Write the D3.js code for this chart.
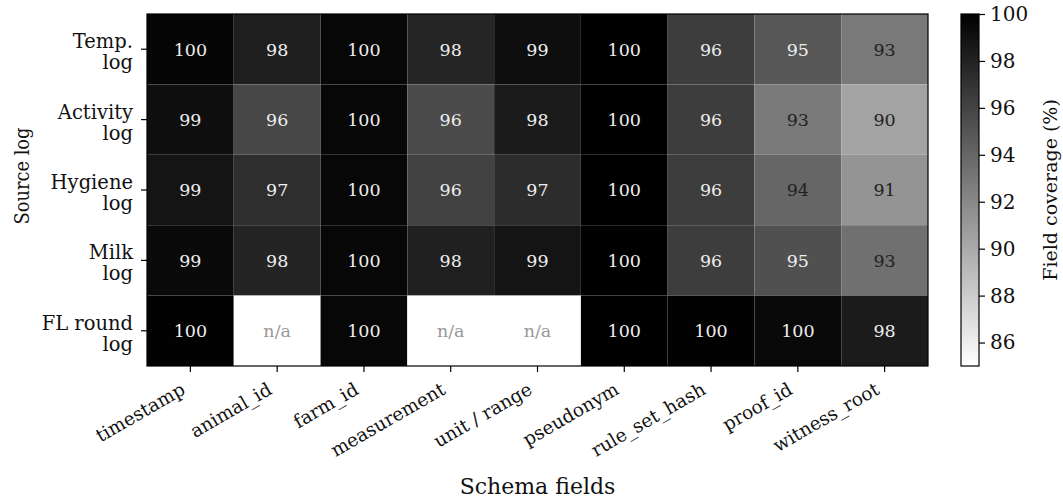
<!DOCTYPE html>
<html>
<head>
<meta charset="utf-8">
<script src="https://cdn.jsdelivr.net/npm/d3@7"></script>
<style>
  body { margin: 0; background: #fff; }
  svg text { font-family: 'DejaVu Serif', serif; }
</style>
</head>
<body>
<svg id="chart" width="1063" height="502"></svg>
<script>
const fields = ['timestamp', 'animal_id', 'farm_id', 'measurement', 'unit / range',
  'pseudonym', 'rule_set_hash', 'proof_id', 'witness_root'];
const logs = [['Temp.', 'log'], ['Activity', 'log'], ['Hygiene', 'log'], ['Milk', 'log'], ['FL round', 'log']];

// coverage in %, null = field not applicable
const tempLog     = [99.7, 98.2, 99.6, 97.8, 99.2, 100, 96.4, 94.8, 92.9];
const activityLog = [99.1, 95.8, 99.6, 95.6, 98.4, 100, 96.4, 92.8, 90.4];
const hygieneLog  = [98.8, 97.3, 99.6, 96.1, 97.4, 100, 96.4, 94.0, 91.3];
const milkLog     = [99.4, 97.9, 99.6, 98.1, 98.8, 100, 96.4, 95.3, 93.4];
const flRoundLog  = [99.9, null, 99.6, null, null, 100, 99.9, 99.5, 98.4];

const coverage = [tempLog, activityLog, hygieneLog, milkLog, flRoundLog];
const cbTicks = [86, 88, 90, 92, 94, 96, 98, 100];

const svg = d3.select('#chart');
const x0 = 147, x1 = 928, y0 = 14, y1 = 366;

const x = d3.scaleBand().domain(fields).range([x0, x1]);
const y = d3.scaleBand().domain(d3.range(logs.length)).range([y0, y1]);
const color = d3.scaleLinear().domain([85, 100]).range(['#ffffff', '#000000']).clamp(true);

const cells = [];
coverage.forEach((row, i) => row.forEach((v, j) => cells.push({ row: i, field: fields[j], v })));

svg.append('g').selectAll('rect')
  .data(cells)
  .join('rect')
  .attr('x', d => x(d.field))
  .attr('y', d => y(d.row))
  .attr('width', x.bandwidth())
  .attr('height', y.bandwidth())
  .attr('fill', d => d.v == null ? '#ffffff' : color(d.v))
  .attr('stroke', 'rgba(255,255,255,0.05)')
  .attr('stroke-width', 0.6);

svg.append('g').selectAll('text')
  .data(cells)
  .join('text')
  .attr('x', d => x(d.field) + x.bandwidth() / 2)
  .attr('y', d => y(d.row) + y.bandwidth() / 2)
  .attr('dy', '0.36em')
  .attr('text-anchor', 'middle')
  .attr('font-size', 17.5)
  .attr('fill', d => d.v == null ? '#999999' : (d.v < 94.5 ? '#222222' : '#eeeeee'))
  .text(d => d.v == null ? 'n/a' : d3.format('.0f')(d.v));

// frame
svg.append('rect')
  .attr('x', x0).attr('y', y0)
  .attr('width', x1 - x0).attr('height', y1 - y0)
  .attr('fill', 'none').attr('stroke', '#000').attr('stroke-width', 1.2);

// x axis
const xAxis = svg.append('g')
  .attr('transform', `translate(0,${y1})`)
  .call(d3.axisBottom(x).tickSize(6).tickSizeOuter(0));
xAxis.select('.domain').remove();
xAxis.selectAll('line').attr('stroke', '#000').attr('stroke-width', 1.2);
xAxis.selectAll('text')
  .attr('font-size', 18.5)
  .attr('fill', '#111')
  .attr('text-anchor', 'end')
  .attr('x', 0).attr('y', 0).attr('dy', 0)
  .attr('transform', 'translate(-4,27) rotate(-30)');

// y axis
const yAxis = svg.append('g')
  .attr('transform', `translate(${x0},0)`)
  .call(d3.axisLeft(y).tickSize(6).tickSizeOuter(0).tickFormat(''));
yAxis.select('.domain').remove();
yAxis.selectAll('line').attr('stroke', '#000').attr('stroke-width', 1.2);
yAxis.selectAll('.tick').each(function(i) {
  const t = d3.select(this).append('text')
    .attr('x', -14)
    .attr('text-anchor', 'end')
    .attr('font-size', 19.5)
    .attr('fill', '#111');
  logs[i].forEach((line, k) => {
    t.append('tspan').attr('x', -14).attr('y', k === 0 ? -1 : 20).text(line);
  });
});

svg.append('text')
  .attr('transform', `translate(29,176) rotate(-90) scale(0.87,1)`)
  .attr('text-anchor', 'middle')
  .attr('font-size', 20.5)
  .attr('fill', '#111')
  .text('Source log');

svg.append('text')
  .attr('x', (x0 + x1) / 2)
  .attr('y', 494)
  .attr('text-anchor', 'middle')
  .attr('font-size', 22)
  .attr('fill', '#111')
  .text('Schema fields');

// colorbar
const cbX = 961, cbW = 18;
const cbScale = d3.scaleLinear().domain([85, 100]).range([y1, y0]);
const defs = svg.append('defs');
const grad = defs.append('linearGradient')
  .attr('id', 'cbgrad').attr('x1', 0).attr('y1', 1).attr('x2', 0).attr('y2', 0);
grad.append('stop').attr('offset', 0).attr('stop-color', color(85));
grad.append('stop').attr('offset', 1).attr('stop-color', color(100));

svg.append('rect')
  .attr('x', cbX).attr('y', y0)
  .attr('width', cbW).attr('height', y1 - y0)
  .attr('fill', 'url(#cbgrad)')
  .attr('stroke', '#000').attr('stroke-width', 1.2);

const cbAxis = svg.append('g')
  .attr('transform', `translate(${cbX + cbW},0)`)
  .call(d3.axisRight(cbScale).tickValues(cbTicks).tickSize(6).tickSizeOuter(0));
cbAxis.select('.domain').remove();
cbAxis.selectAll('line').attr('stroke', '#000').attr('stroke-width', 1.2);
cbAxis.selectAll('text')
  .attr('font-size', 20)
  .attr('fill', '#111')
  .attr('x', 11);

svg.append('text')
  .attr('transform', `translate(1057,190) rotate(-90)`)
  .attr('text-anchor', 'middle')
  .attr('font-size', 19)
  .attr('fill', '#111')
  .text('Field coverage (%)');
</script>
</body>
</html>
